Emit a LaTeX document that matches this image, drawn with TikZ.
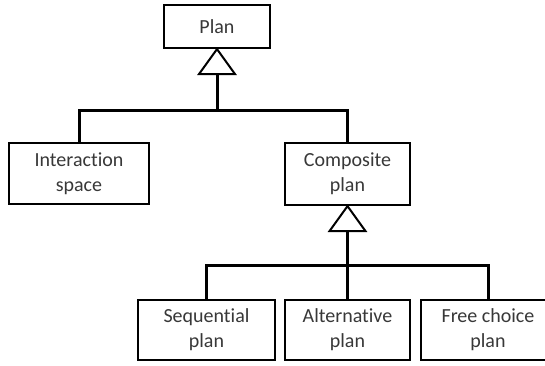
\documentclass[tikz,border=0pt]{standalone}
\usepackage{fontspec}
\setmainfont{Carlito}[Ligatures=CommonOff]
\usetikzlibrary{calc}
\begin{document}
\begin{tikzpicture}[x=1pt,y=-1pt,
  cls/.style={draw=black,line width=2.2pt,fill=white,inner sep=0pt,
    align=center,text=black!78,font=\fontsize{20}{25}\selectfont},
  link/.style={line width=3pt,line join=miter},
  gen/.style={draw=black,line width=2pt,fill=white,line join=miter}]
\useasboundingbox (0,0) rectangle (545,365);
% class boxes
\node[cls,minimum width=106pt,minimum height=43pt] (plan) at (217,26.5) {Plan};
\node[cls,minimum width=140pt,minimum height=61pt] (inter) at (79,173.5) {Interaction\\space};
\node[cls,minimum width=125pt,minimum height=62pt] (comp) at (347.5,174) {Composite\\plan};
\node[cls,minimum width=137pt,minimum height=60pt] (seq) at (206.5,330) {Sequential\\plan};
\node[cls,minimum width=125pt,minimum height=60pt] (alt) at (347.5,330) {Alternative\\plan};
\node[cls,minimum width=134pt,minimum height=60pt] (free) at (488,330) {Free choice\\plan};
% junction points of the inheritance trees
\coordinate (bus1) at (217,110);
\coordinate (bus2) at (347.5,265);
\coordinate (t1) at ($(plan.south)+(0,25)$);
\coordinate (t2) at ($(comp.south)+(0,25)$);
% connectors
\draw[link] (inter.north) |- (bus1) -| (comp.north);
\draw[link] (t1) -- (bus1);
\draw[link] (seq.north) |- (bus2) -| (free.north);
\draw[link] (alt.north) -- (t2);
% generalization triangles
\draw[gen] (plan.south) -- ($(t1)+(-18,0)$) -- ($(t1)+(18,0)$) -- cycle;
\draw[gen] (comp.south) -- ($(t2)+(-18,0)$) -- ($(t2)+(18,0)$) -- cycle;
\end{tikzpicture}
\end{document}
